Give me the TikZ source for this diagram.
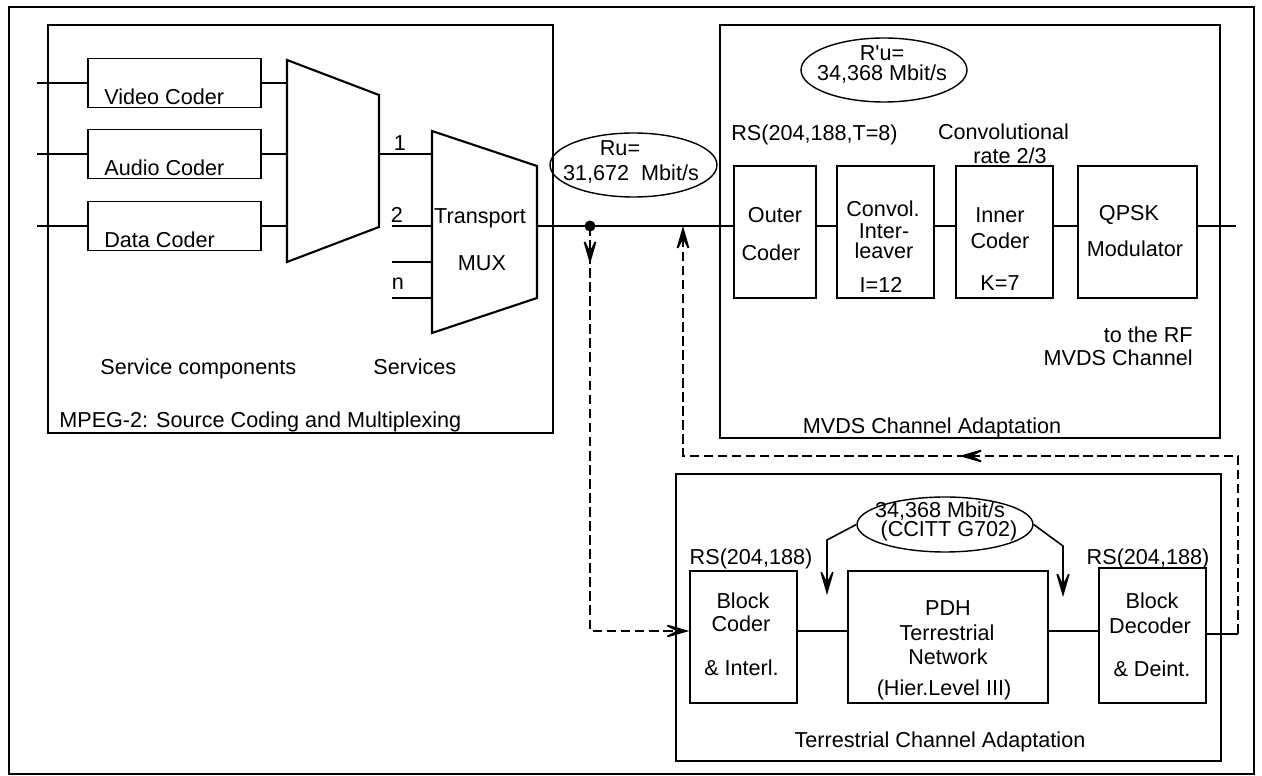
\documentclass[tikz,border=0pt]{standalone}
\usepackage{fontspec}
\setmainfont{Liberation Sans}
\usetikzlibrary{arrows.meta,shapes.geometric,decorations.markings}

\begin{document}
\begin{tikzpicture}[x=0.02cm,y=-0.02cm,
  font=\fontsize{12.3}{14}\selectfont,
  opn/.tip={Stealth[length=0.62cm,width=0.36cm,inset=0.36cm]},
  txt/.style={inner sep=0pt,text height=8.8pt,text depth=0pt},
  blk/.style={draw,line width=0.7pt,inner sep=0pt},
  sig/.style={line width=1.1pt},
  link/.style={line width=0.9pt},
  mux/.style={draw,line width=1.2pt,line join=miter},
  rate/.style={draw,ellipse,line width=0.8pt,inner sep=0pt},
  back/.style={line width=1pt,dash pattern=on 5.5pt off 2.5pt}]
\useasboundingbox (0,0) rectangle (1262,776);
\draw[line width=0.8pt] (9,7) rectangle (1254,774);

% MPEG-2 part
\node[blk,minimum width=10.1cm,minimum height=8.16cm] (mpeg) at (300.5,229) {};
\node[txt,anchor=west] (mpegt) at (59,420) {MPEG-2: Source Coding and Multiplexing};
\node[blk,minimum width=3.46cm,minimum height=0.98cm] (video) at (174.5,83) {};
\node[blk,minimum width=3.46cm,minimum height=0.98cm] (audio) at (174.5,154) {};
\node[blk,minimum width=3.46cm,minimum height=0.98cm] (data) at (174.5,226) {};
\node[txt,anchor=west] (videot) at (104,97) {Video Coder};
\node[txt,anchor=west] (audiot) at (104,168) {Audio Coder};
\node[txt,anchor=west] (datat) at (104,240) {Data Coder};
\coordinate (src) at (37,0);
\draw[sig] (src |- video.west) -- (video.west);
\draw[sig] (src |- audio.west) -- (audio.west);
\draw[sig] (src |- data.west) -- (data.west);

% first multiplexer
\coordinate (ta) at (287,60);
\coordinate (tb) at (379,95);
\coordinate (tc) at (379,227);
\coordinate (td) at (287,262);
\draw[mux] (ta) -- (tb) -- (tc) -- (td) -- cycle;
\draw[sig] (video.east) -- (video.east -| ta);
\draw[sig] (audio.east) -- (audio.east -| ta);
\draw[sig] (data.east) -- (data.east -| ta);

% transport mux
\coordinate (ma) at (432,131);
\coordinate (mb) at (537,166);
\coordinate (mc) at (537,298);
\coordinate (md) at (432,333);
\draw[mux] (ma) -- (mb) -- (mc) -- (md) -- cycle;
\draw[sig] (tb |- audio.east) -- (ma |- audio.east);
\coordinate (in2) at (392,226);
\coordinate (in3) at (392,262);
\coordinate (inn) at (392,298);
\draw[sig] (in2) -- (in2 -| ma);
\draw[sig] (in3) -- (in3 -| ma);
\draw[sig] (inn) -- (inn -| ma);
\node[txt] (n1) at (400,143) {1};
\node[txt] (n2) at (397,215) {2};
\node[txt] (nn) at (398,282) {n};
\node[txt] (transp) at (480,216) {Transport};
\node[txt] (muxt) at (482,263) {MUX};
\node[txt,anchor=west] (svcc) at (100,367) {Service components};
\node[txt,anchor=west] (svc) at (373,367) {Services};

% MVDS part
\node[blk,minimum width=10.0cm,minimum height=8.26cm] (mvds) at (970,231.5) {};
\node[txt] (mvdst) at (932,426) {MVDS Channel Adaptation};
\node[blk,minimum width=1.64cm,minimum height=2.64cm] (outer) at (775,232) {};
\node[blk,minimum width=1.94cm,minimum height=2.64cm] (intl) at (885.5,232) {};
\node[blk,minimum width=1.94cm,minimum height=2.64cm] (inner) at (1004.5,232) {};
\node[blk,minimum width=2.38cm,minimum height=2.64cm] (qpsk) at (1137.5,232) {};
\node[txt] (rs1) at (814.5,133) {RS(204,188,T=8)};
\node[txt] (conv1) at (1003.5,132) {Convolutional};
\node[txt] (conv2) at (1010,156) {rate 2/3};
\node[txt] (outer1) at (775,215) {Outer};
\node[txt] (outer2) at (771,253) {Coder};
\node[txt] (intl1) at (883,209) {Convol.};
\node[txt] (intl2) at (884,231) {Inter-};
\node[txt] (intl3) at (884,251) {leaver};
\node[txt] (intl4) at (881,285) {I=12};
\node[txt] (inner1) at (1000,215) {Inner};
\node[txt] (inner2) at (1000,241) {Coder};
\node[txt] (inner3) at (1000,283) {K=7};
\node[txt] (qpsk1) at (1129,213) {QPSK};
\node[txt] (qpsk2) at (1135,249) {Modulator};
\node[txt,anchor=east] (rf1) at (1193,335) {to the RF};
\node[txt,anchor=east] (rf2) at (1193,358) {MVDS Channel};

% rate ellipses
\node[rate,minimum width=3.34cm,minimum height=1.28cm] (ru) at (633.5,165) {};
\node[txt] (ru1) at (620,148) {Ru=};
\node[txt] (ru2) at (631,173) {31,672\ \ Mbit/s};
\node[rate,minimum width=3.32cm,minimum height=1.28cm] (rpu) at (884,70) {};
\node[txt] (rpu1) at (882,53) {R\textquotesingle u=};
\node[txt] (rpu2) at (882,73) {34,368 Mbit/s};

% main signal line
\coordinate (mo) at (537,226);
\coordinate (tap) at (590,226);
\coordinate (rf) at (1236,226);
\draw[sig] (mo) -- (outer.west |- mo);
\draw[sig] (outer.east |- mo) -- (intl.west |- mo);
\draw[sig] (intl.east |- mo) -- (inner.west |- mo);
\draw[sig] (inner.east |- mo) -- (qpsk.west |- mo);
\draw[sig] (qpsk.east |- mo) -- (rf);
\fill (tap) circle (0.11cm);

% terrestrial part
\node[blk,minimum width=10.9cm,minimum height=5.74cm] (terr) at (948.5,617.5) {};
\node[txt] (terrt) at (940,740) {Terrestrial Channel Adaptation};
\node[blk,minimum width=2.14cm,minimum height=2.64cm] (bcod) at (743.5,637) {};
\node[blk,minimum width=4.0cm,minimum height=2.64cm] (pdh) at (948,637) {};
\node[blk,minimum width=2.14cm,minimum height=2.7cm] (bdec) at (1152.5,635.5) {};
\node[txt] (rs2) at (751,557) {RS(204,188)};
\node[txt] (rs3) at (1148,557) {RS(204,188)};
\node[txt] (bcod1) at (743,601) {Block};
\node[txt] (bcod2) at (741,624) {Coder};
\node[txt] (bcod3) at (741.5,668) {\& Interl.};
\node[txt] (pdh1) at (948,608) {PDH};
\node[txt] (pdh2) at (947,633) {Terrestrial};
\node[txt] (pdh3) at (948,657) {Network};
\node[txt] (pdh4) at (944,688) {(Hier.Level III)};
\node[txt] (bdec1) at (1152,601) {Block};
\node[txt] (bdec2) at (1150,626) {Decoder};
\node[txt] (bdec3) at (1152,669) {\& Deint.};
\node[rate,minimum width=3.52cm,minimum height=1.1cm] (pdhr) at (945,524.5) {};
\node[txt] (pdhr1) at (940,509.5) {34,368 Mbit/s};
\node[txt] (pdhr2) at (949,529) {(CCITT G702)};
\coordinate (la) at (827,540);
\coordinate (lb) at (827,595);
\coordinate (ra) at (1063,546);
\coordinate (rb) at (1063,597);
\draw[link,-{opn}] (pdhr.west) -- (la) -- (lb);
\draw[link,-{opn}] (pdhr.east) -- (ra) -- (rb);
\coordinate (tdn) at (590,631);
\draw[sig] (bcod.east |- tdn) -- (pdh.west |- tdn);
\draw[sig] (pdh.east |- tdn) -- (bdec.west |- tdn);

% dashed loop through the terrestrial network
\draw[back,-{opn},postaction={decorate},
  decoration={markings,mark=at position 0.76cm with {\arrow{opn}}}]
  (tap) -- (tdn) -- (bcod.west |- tdn);
\coordinate (r0) at (1238,634);
\coordinate (r1) at (1238,456);
\coordinate (r2) at (683,456);
\coordinate (r3) at (683,226);
\draw[sig] (bdec.east |- r0) -- (r0);
\draw[back,-{opn},postaction={decorate},
  decoration={markings,mark=at position 9.14cm with {\arrow{opn}}}]
  (r0) -- (r1) -- (r2) -- (r3);
\end{tikzpicture}
\end{document}
